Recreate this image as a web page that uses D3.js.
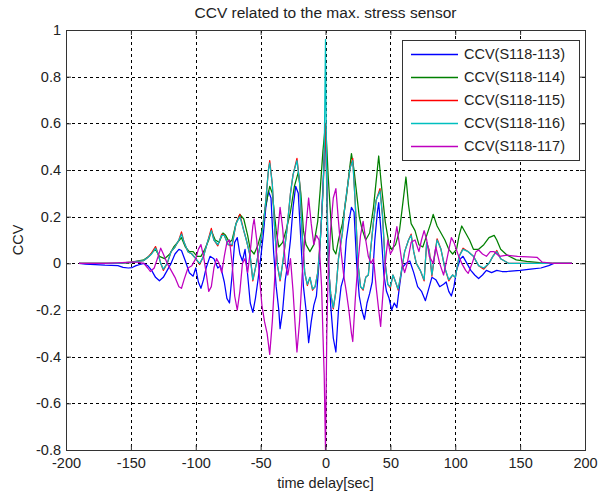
<!DOCTYPE html>
<html>
<head>
<meta charset="utf-8">
<script src="https://cdn.jsdelivr.net/npm/d3@7/dist/d3.min.js"></script>
<style>
body { margin: 0; background: #fff; }
svg { display: block; font-family: "Liberation Sans", Arial, sans-serif; }
</style>
</head>
<body>
<div id="chart"></div>
<script>
/*-------------------- Data -------------------*/

var xTicks = [-200, -150, -100, -50, 0, 50, 100, 150, 200];
var yTicks = [-0.8, -0.6, -0.4, -0.2, 0, 0.2, 0.4, 0.6, 0.8, 1];
var seriesNames = ["CCV(S118-113)", "CCV(S118-114)", "CCV(S118-115)", "CCV(S118-116)", "CCV(S118-117)"];
var seriesColors = ["#0000ff", "#008000", "#ff0000", "#00bfbf", "#bf00bf"];

// [time delay (sec), CCV]
var ccv113 = [[-190,0],[-185,-0.003],[-170,-0.008],[-160,-0.01],[-156,-0.017],[-152,-0.02],[-149,-0.018],[-146,-0.01],[-143,-0.005],[-140,0],[-137,-0.01],[-134,-0.03],[-131,-0.06],[-128,-0.075],[-125,-0.06],[-122,-0.03],[-119,0],[-116,0.04],[-113,0.06],[-111,0.055],[-108,0.01],[-105,-0.04],[-102,-0.055],[-100,-0.02],[-98,-0.08],[-96,-0.107],[-94,-0.07],[-92,-0.02],[-89,0.03],[-86,0.02],[-83,-0.02],[-81,-0.01],[-78,-0.08],[-76,-0.15],[-74,-0.17],[-72,-0.05],[-70,0.09],[-68,0.11],[-66,0.04],[-64,0.01],[-62,0.06],[-60,-0.05],[-58,-0.17],[-56,-0.21],[-54,-0.15],[-52,-0.07],[-50,0.02],[-48,0.12],[-46,0.24],[-44,0.31],[-42,0.28],[-40,0.05],[-38,-0.1],[-36,-0.2],[-35,-0.28],[-33,-0.2],[-31,-0.07],[-29,0],[-27,0.1],[-25,0.24],[-23,0.33],[-21,0.3],[-19,0.1],[-17,-0.1],[-15,-0.2],[-13,-0.34],[-11,-0.25],[-9,-0.18],[-7,-0.14],[-5,0],[-3,0.2],[-1,0.45],[0,0.57],[1,0.35],[2,0.05],[4,-0.18],[6,-0.32],[8,-0.38],[10,-0.2],[12,-0.1],[14,-0.06],[16,0.1],[18,0.18],[20,0.24],[22,0.22],[24,0],[26,-0.14],[28,-0.2],[30,-0.24],[32,-0.17],[34,-0.13],[36,-0.08],[38,0.1],[40,0.22],[41,0.26],[43,0.12],[45,-0.05],[47,-0.12],[49,-0.15],[51,-0.2],[53,-0.17],[55,-0.19],[57,-0.1],[59,-0.02],[62,0],[65,0.01],[68,-0.04],[71,-0.1],[74,-0.12],[77,-0.16],[79,-0.12],[82,-0.06],[85,-0.07],[88,-0.1],[91,-0.09],[93,-0.08],[95,-0.12],[97,-0.14],[99,-0.1],[101,-0.03],[104,0.02],[106,0.03],[109,0],[112,-0.03],[115,-0.05],[118,-0.065],[121,-0.05],[124,-0.03],[128,-0.04],[132,-0.03],[136,-0.035],[140,-0.035],[150,-0.03],[158,-0.025],[166,-0.02],[172,-0.01],[176,0],[190,0]];

var ccv114 = [[-190,0],[-160,0],[-150,0.005],[-145,0.01],[-140,0.015],[-136,0.03],[-133,0.05],[-131,0.06],[-128,0.03],[-124,0.02],[-120,0.04],[-117,0.07],[-114,0.09],[-111,0.11],[-108,0.07],[-105,0.05],[-102,0.05],[-99,0.03],[-96,0.03],[-93,0.06],[-90,0.1],[-88,0.14],[-85,0.1],[-82,0.09],[-79,0.13],[-77,0.12],[-74,0.09],[-72,0.1],[-69,0.17],[-66,0.21],[-63,0.19],[-60,0.12],[-58,0.06],[-55,0.04],[-52,0.08],[-49,0.14],[-46,0.25],[-43,0.33],[-41,0.3],[-38,0.14],[-36,0.07],[-33,0.09],[-30,0.15],[-27,0.22],[-24,0.33],[-21,0.39],[-19,0.3],[-17,0.14],[-15,0.08],[-12,0.05],[-9,0.08],[-6,0.18],[-4,0.32],[-2,0.48],[0,0.6],[1,0.5],[2,0.38],[4,0.2],[6,0.06],[8,0.04],[10,0.1],[13,0.17],[16,0.28],[18,0.38],[20,0.47],[22,0.4],[24,0.3],[26,0.2],[28,0.15],[31,0.1],[34,0.13],[37,0.24],[39,0.35],[41,0.46],[43,0.34],[46,0.18],[49,0.08],[51,0.06],[54,0.08],[57,0.14],[59,0.23],[62,0.37],[64,0.25],[66,0.17],[69,0.14],[72,0.08],[75,0.07],[78,0.12],[81,0.17],[83,0.21],[86,0.16],[89,0.13],[92,0.1],[95,0.06],[98,0.04],[101,0.06],[103,0.12],[105,0.16],[108,0.13],[111,0.1],[114,0.06],[118,0.06],[122,0.08],[126,0.11],[130,0.12],[132,0.1],[135,0.06],[140,0.035],[147,0.015],[155,0.008],[165,0.003],[175,0],[190,0]];

var ccv115 = [[-190,0],[-160,0],[-150,0.003],[-145,0.008],[-140,0.012],[-137,0.025],[-134,0.045],[-131,0.072],[-129,0.04],[-127,0],[-125,-0.03],[-122,0],[-119,0.05],[-116,0.07],[-113,0.1],[-111,0.135],[-109,0.09],[-106,0.05],[-103,0.04],[-100,0.02],[-97,-0.005],[-94,0.03],[-91,0.09],[-88,0.15],[-86,0.1],[-83,0.075],[-80,0.125],[-78,0.12],[-75,0.08],[-72,0.075],[-69,0.17],[-66,0.21],[-63,0.14],[-61,0.1],[-58,0.03],[-56,-0.075],[-54,-0.02],[-51,0.06],[-48,0.16],[-46,0.27],[-44,0.4],[-43,0.44],[-41,0.34],[-39,0.13],[-37,-0.01],[-35,-0.075],[-33,0],[-30,0.13],[-27,0.3],[-25,0.38],[-22,0.45],[-20,0.35],[-18,0.13],[-16,-0.04],[-14,-0.095],[-12,-0.06],[-10,-0.115],[-8,-0.1],[-6,-0.04],[-4,0.1],[-2,0.3],[-1,0.45],[0,0.6],[1,0.3],[2,0],[4,-0.13],[6,-0.195],[8,-0.12],[10,0.02],[13,0.13],[15,0.25],[17,0.33],[19,0.41],[21,0.45],[23,0.25],[25,0],[27,-0.1],[29,-0.115],[31,-0.06],[33,-0.05],[35,0.07],[37,0.18],[39,0.27],[42,0.32],[44,0.2],[46,0],[48,-0.09],[50,-0.105],[52,-0.05],[54,-0.08],[56,-0.115],[58,-0.05],[61,0.05],[64,0.1],[66,0.125],[68,0.05],[70,0],[73,-0.03],[76,-0.075],[78,0.09],[80,0.055],[82,-0.055],[84,0.03],[86,0.105],[89,0.06],[92,-0.02],[95,-0.075],[98,-0.05],[100,-0.06],[103,0.03],[106,0.065],[110,0.05],[114,0.03],[118,-0.01],[122,-0.025],[126,0],[129,0.03],[132,0.055],[135,0.02],[141,0],[150,0],[190,0]];

var ccv116 = [[-190,0],[-160,0],[-150,0.003],[-145,0.008],[-140,0.012],[-137,0.025],[-134,0.04],[-131,0.065],[-129,0.04],[-127,0],[-125,-0.025],[-122,0],[-119,0.05],[-116,0.07],[-113,0.1],[-111,0.125],[-109,0.09],[-106,0.05],[-103,0.04],[-100,0.02],[-97,0],[-94,0.03],[-91,0.09],[-88,0.14],[-86,0.1],[-83,0.08],[-80,0.12],[-78,0.12],[-75,0.08],[-72,0.08],[-69,0.17],[-66,0.2],[-63,0.14],[-61,0.1],[-58,0.03],[-56,-0.07],[-54,-0.02],[-51,0.06],[-48,0.16],[-46,0.27],[-44,0.4],[-43,0.43],[-41,0.34],[-39,0.13],[-37,-0.01],[-35,-0.07],[-33,0],[-30,0.13],[-27,0.3],[-25,0.38],[-22,0.44],[-20,0.35],[-18,0.13],[-16,-0.04],[-14,-0.09],[-12,-0.06],[-10,-0.11],[-8,-0.1],[-6,-0.04],[-4,0.1],[-2,0.3],[-1,0.45],[0,0.96],[1,0.3],[2,0],[4,-0.13],[6,-0.19],[8,-0.12],[10,0.02],[13,0.13],[15,0.25],[17,0.33],[19,0.41],[21,0.44],[23,0.25],[25,0],[27,-0.1],[29,-0.11],[31,-0.06],[33,-0.05],[35,0.07],[37,0.18],[39,0.27],[42,0.31],[44,0.2],[46,0],[48,-0.09],[50,-0.1],[52,-0.05],[54,-0.08],[56,-0.11],[58,-0.05],[61,0.05],[64,0.1],[66,0.12],[68,0.05],[70,0],[73,-0.03],[76,-0.07],[78,0.09],[80,0.05],[82,-0.05],[84,0.03],[86,0.1],[89,0.06],[92,-0.02],[95,-0.07],[98,-0.05],[100,-0.06],[103,0.03],[106,0.06],[110,0.05],[114,0.03],[118,-0.01],[122,-0.02],[126,0],[129,0.03],[132,0.05],[135,0.02],[141,0],[150,0],[190,0]];

var ccv117 = [[-190,0],[-170,0],[-160,0.002],[-150,0.005],[-145,0.005],[-140,0],[-137,-0.02],[-135,-0.035],[-132,-0.02],[-129,0.03],[-127,0.065],[-125,0.04],[-122,0],[-119,-0.03],[-116,-0.06],[-113,-0.1],[-111,-0.107],[-109,-0.07],[-106,-0.02],[-103,-0.01],[-100,0.02],[-98,0.06],[-96,0.08],[-94,0.03],[-92,-0.04],[-90,-0.12],[-88,-0.1],[-86,-0.02],[-84,0.02],[-82,0],[-80,-0.04],[-78,0.03],[-76,0.09],[-74,0.1],[-72,0],[-70,-0.14],[-68,-0.2],[-66,-0.12],[-64,0],[-62,0.02],[-60,-0.04],[-58,0.05],[-56,0.16],[-55,0.19],[-53,0.1],[-51,-0.05],[-49,-0.18],[-47,-0.25],[-45,-0.3],[-43,-0.39],[-41,-0.25],[-39,-0.05],[-37,0.12],[-35,0.24],[-33,0.15],[-31,0],[-29,-0.05],[-27,0.02],[-25,-0.12],[-23,-0.3],[-22,-0.38],[-20,-0.25],[-18,-0.05],[-16,0.1],[-14,0.22],[-13,0.28],[-11,0.17],[-9,0.08],[-7,0.12],[-5,0.1],[-3,-0.1],[-2,-0.3],[-1,-0.48],[0,-0.8],[1,-0.3],[2,-0.05],[4,0.15],[6,0.28],[8,0.32],[10,0.18],[12,0.05],[14,-0.05],[16,-0.12],[18,-0.2],[20,-0.3],[21,-0.335],[23,-0.15],[25,0],[27,0.12],[29,0.18],[31,0.1],[33,0.03],[35,0],[37,0.02],[39,-0.1],[41,-0.2],[42.5,-0.27],[44,-0.15],[46,0],[48,0.1],[50,0.04],[52,0.06],[55,0.157],[57,0.08],[59,0],[61,-0.04],[63,0],[66,0.09],[69,0.1],[72,0.05],[74,0.1],[76,0.14],[78,0.1],[80,0.03],[83,0],[85,0.07],[88,0],[91,-0.05],[94,0.03],[97,0.11],[99,0.09],[102,0.04],[105,0],[108,-0.03],[110,-0.043],[113,0],[116,0.05],[118,0.057],[121,0.04],[124,0.03],[127,0.05],[130,0.05],[134,0.03],[140,0.035],[148,0.03],[156,0.028],[163,0.026],[167,0.005],[175,0],[190,0]];

var allSeries = [ccv113, ccv114, ccv115, ccv116, ccv117];

/*-------------------- Chart -------------------*/

var width = 601, height = 493;
var plot = {left: 66, right: 585, top: 30, bottom: 450};

var svg = d3.select("#chart").append("svg")
    .attr("width", width)
    .attr("height", height);

var xScale = d3.scaleLinear().domain([-200, 200]).range([plot.left, plot.right]);
var yScale = d3.scaleLinear().domain([-0.8, 1]).range([plot.bottom, plot.top]);

var fmt = d => String(+d.toFixed(1));

// dotted grid
var grid = svg.append("g").attr("stroke", "#000").attr("stroke-width", 1).attr("stroke-dasharray", "3,3");
grid.selectAll("line.gx")
    .data(xTicks.slice(1, -1))
    .enter().append("line")
    .attr("x1", d => Math.round(xScale(d)) + 0.5).attr("x2", d => Math.round(xScale(d)) + 0.5)
    .attr("y1", plot.top).attr("y2", plot.bottom);
grid.selectAll("line.gy")
    .data(yTicks.slice(1, -1))
    .enter().append("line")
    .attr("y1", d => Math.round(yScale(d)) + 0.5).attr("y2", d => Math.round(yScale(d)) + 0.5)
    .attr("x1", plot.left).attr("x2", plot.right);

// series, clipped to the axes box
svg.append("clipPath").attr("id", "clip")
    .append("rect")
    .attr("x", plot.left).attr("y", plot.top)
    .attr("width", plot.right - plot.left).attr("height", plot.bottom - plot.top);

var line = d3.line().x(d => xScale(d[0])).y(d => yScale(d[1]));

svg.append("g").attr("clip-path", "url(#clip)")
    .selectAll("path")
    .data(allSeries)
    .enter().append("path")
    .attr("fill", "none")
    .attr("stroke", (d, i) => seriesColors[i])
    .attr("stroke-width", 1.25)
    .attr("stroke-linejoin", "round")
    .attr("d", line);

// axes (ticks point inwards)
function styleAxis(g) {
    g.select(".domain").remove();
    g.selectAll(".tick line").attr("stroke", "#333");
    g.selectAll(".tick text").attr("fill", "#222").style("font-size", "14.5px");
}

svg.append("g")
    .attr("transform", "translate(0," + plot.bottom + ")")
    .call(d3.axisBottom(xScale).tickValues(xTicks).tickSize(-5).tickPadding(8).tickFormat(fmt))
    .call(styleAxis);
svg.append("g")
    .attr("transform", "translate(" + plot.left + ",0)")
    .call(d3.axisLeft(yScale).tickValues(yTicks).tickSize(-5).tickPadding(5).tickFormat(fmt))
    .call(styleAxis);
svg.append("g")
    .attr("transform", "translate(0," + plot.top + ")")
    .call(d3.axisTop(xScale).tickValues(xTicks).tickSize(-5).tickFormat(""))
    .call(styleAxis);
svg.append("g")
    .attr("transform", "translate(" + plot.right + ",0)")
    .call(d3.axisRight(yScale).tickValues(yTicks).tickSize(-5).tickFormat(""))
    .call(styleAxis);

svg.append("rect")
    .attr("x", plot.left + 0.5).attr("y", plot.top + 0.5)
    .attr("width", plot.right - plot.left).attr("height", plot.bottom - plot.top)
    .attr("fill", "none").attr("stroke", "#333");

// labels
svg.append("text")
    .attr("x", (plot.left + plot.right) / 2).attr("y", 18)
    .attr("text-anchor", "middle")
    .style("font-size", "15.5px").attr("fill", "#222")
    .text("CCV related to the max. stress sensor");

svg.append("text")
    .attr("x", (plot.left + plot.right) / 2).attr("y", 488)
    .attr("text-anchor", "middle")
    .style("font-size", "14.5px").attr("fill", "#222")
    .text("time delay[sec]");

svg.append("text")
    .attr("transform", "translate(23," + (plot.top + plot.bottom) / 2 + ") rotate(-90)")
    .attr("text-anchor", "middle")
    .style("font-size", "14.5px").attr("fill", "#222")
    .text("CCV");

// legend
var legend = svg.append("g").attr("transform", "translate(402,40)");
legend.append("rect")
    .attr("x", 0.5).attr("y", 0.5)
    .attr("width", 177).attr("height", 120)
    .attr("fill", "#fff").attr("stroke", "#333");

var item = legend.selectAll("g.item")
    .data(seriesNames)
    .enter().append("g")
    .attr("transform", (d, i) => "translate(0," + (14 + i * 23) + ")");
item.append("line")
    .attr("x1", 9).attr("x2", 56)
    .attr("y1", 0.5).attr("y2", 0.5)
    .attr("stroke", (d, i) => seriesColors[i])
    .attr("stroke-width", 1.5);
item.append("text")
    .attr("x", 62).attr("dy", "0.36em")
    .style("font-size", "14.5px").attr("fill", "#222")
    .text(d => d);
</script>
</body>
</html>
